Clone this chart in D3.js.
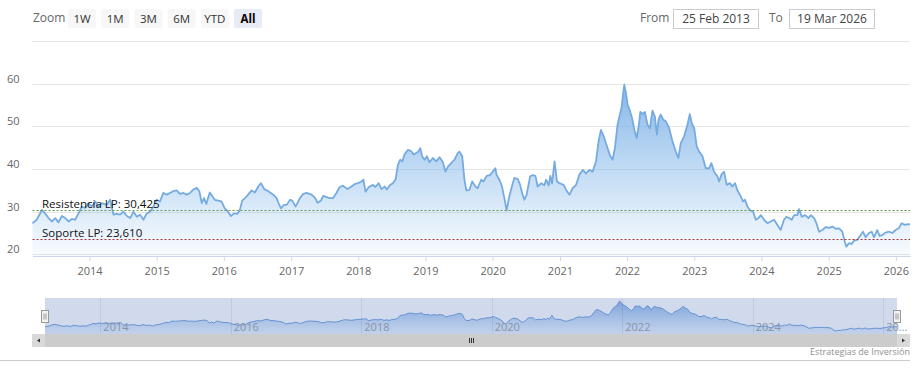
<!DOCTYPE html>
<html>
<head>
<meta charset="utf-8">
<script src="https://cdn.jsdelivr.net/npm/d3@7"></script>
<style>
  body { margin: 0; background: #fff; }
  svg { display: block; font-family: "Open Sans", sans-serif; }
</style>
</head>
<body>
<svg id="chart" width="921" height="378"></svg>
<script>
// Price series
const dates = [
  "2013-02-25","2013-03-20","2013-04-17","2013-05-05","2013-05-23","2013-06-11","2013-06-29","2013-07-16","2013-08-04","2013-08-22",
  "2013-09-09","2013-09-27","2013-10-15","2013-11-02","2013-11-20","2013-12-08","2013-12-26","2014-01-14","2014-02-01","2014-02-19",
  "2014-03-08","2014-04-05","2014-04-23","2014-05-11","2014-05-29","2014-06-16","2014-07-04","2014-07-23","2014-08-10","2014-08-28",
  "2014-09-15","2014-10-03","2014-10-21","2014-11-08","2014-11-26","2014-12-14","2015-01-01","2015-01-19","2015-02-06","2015-02-25",
  "2015-03-14","2015-04-01","2015-04-20","2015-05-08","2015-05-26","2015-06-13","2015-07-01","2015-07-19","2015-08-07","2015-08-21",
  "2015-09-03","2015-09-15","2015-09-28","2015-10-10","2015-10-17","2015-11-13","2015-12-01","2015-12-19","2016-01-06","2016-01-24",
  "2016-02-08","2016-02-26","2016-03-15","2016-03-28","2016-04-10","2016-05-04","2016-05-31","2016-06-18","2016-07-06","2016-07-21",
  "2016-08-08","2016-08-30","2016-09-26","2016-10-14","2016-10-27","2016-11-07","2016-11-23","2016-12-08","2016-12-26","2017-01-07",
  "2017-01-25","2017-02-18","2017-03-08","2017-03-26","2017-04-22","2017-05-10","2017-05-25","2017-06-12","2017-06-24","2017-07-12",
  "2017-07-30","2017-08-17","2017-09-04","2017-09-22","2017-10-10","2017-11-03","2017-11-25","2017-12-13","2017-12-31","2018-01-18",
  "2018-01-29","2018-02-09","2018-02-27","2018-03-22","2018-04-04","2018-04-22","2018-05-07","2018-05-25","2018-06-05","2018-06-21",
  "2018-07-08","2018-07-23","2018-08-04","2018-08-17","2018-08-28","2018-09-09","2018-09-27","2018-10-16","2018-10-30","2018-11-12",
  "2018-11-21","2018-12-04","2018-12-14","2018-12-27","2019-01-09","2019-01-23","2019-02-10","2019-03-01","2019-03-19","2019-04-06",
  "2019-04-20","2019-05-03","2019-05-21","2019-06-08","2019-06-26","2019-07-05","2019-07-20","2019-08-01","2019-08-11","2019-08-28",
  "2019-09-12","2019-09-30","2019-10-12","2019-10-31","2019-11-12","2019-11-30","2019-12-18","2020-01-02","2020-01-16","2020-01-23",
  "2020-02-07","2020-02-21","2020-03-05","2020-03-17","2020-04-01","2020-04-15","2020-04-28","2020-05-16","2020-05-29","2020-06-12",
  "2020-06-22","2020-07-04","2020-07-23","2020-08-06","2020-08-21","2020-09-02","2020-09-21","2020-10-08","2020-10-18","2020-11-01",
  "2020-11-10","2020-11-19","2020-12-03","2020-12-16","2020-12-29","2021-01-21","2021-02-04","2021-02-22","2021-03-11","2021-03-30",
  "2021-04-17","2021-05-05","2021-05-23","2021-06-10","2021-06-28","2021-07-16","2021-07-30","2021-08-12","2021-08-27","2021-09-14",
  "2021-10-02","2021-10-14","2021-10-27","2021-11-10","2021-11-25","2021-12-02","2021-12-11","2021-12-17","2021-12-26","2022-01-04",
  "2022-01-15","2022-01-28","2022-02-10","2022-02-22","2022-03-05","2022-03-14","2022-03-26","2022-04-08","2022-04-22","2022-05-05",
  "2022-05-19","2022-06-01","2022-06-12","2022-06-21","2022-07-03","2022-07-17","2022-07-31","2022-08-18","2022-09-05","2022-09-23",
  "2022-10-07","2022-10-20","2022-11-07","2022-11-25","2022-12-08","2022-12-19","2023-01-01","2023-01-15","2023-01-28","2023-02-15",
  "2023-03-05","2023-03-23","2023-04-04","2023-04-19","2023-05-07","2023-05-16","2023-05-29","2023-06-12","2023-06-27","2023-07-15",
  "2023-07-27","2023-08-11","2023-08-23","2023-09-11","2023-09-23","2023-10-04","2023-10-17","2023-10-30","2023-11-17","2023-12-02",
  "2023-12-16","2023-12-29","2024-01-16","2024-02-03","2024-02-21","2024-03-10","2024-03-28","2024-04-15","2024-05-03","2024-05-16",
  "2024-05-31","2024-06-14","2024-06-27","2024-07-15","2024-07-24","2024-08-08","2024-08-26","2024-09-13","2024-09-26","2024-10-14",
  "2024-10-26","2024-11-10","2024-11-28","2024-12-16","2025-01-03","2025-01-21","2025-02-08","2025-02-26","2025-03-16","2025-03-29",
  "2025-04-07","2025-04-21","2025-05-06","2025-05-18","2025-06-05","2025-06-24","2025-07-06","2025-07-21","2025-08-08","2025-08-23",
  "2025-09-04","2025-09-22","2025-10-05","2025-10-19","2025-11-07","2025-11-25","2025-12-13","2025-12-31","2026-01-17","2026-02-01",
  "2026-02-19","2026-03-09","2026-03-19"
];
const values = [
  27.3,28.1,30.4,29.6,28.5,27.7,28.5,27.5,29.0,28.5,
  27.7,28.3,28.1,29.6,31.2,30.9,32.0,31.2,32.4,31.2,
  32.0,31.6,32.8,29.3,29.5,29.3,30.0,29.0,28.5,30.0,
  28.8,29.3,28.1,29.6,30.0,31.2,32.8,32.4,34.4,34.0,
  34.4,34.8,35.0,34.2,34.4,34.0,34.4,35.2,35.6,34.8,
  32.0,33.2,31.8,33.6,34.5,32.8,32.6,32.4,30.8,30.0,
  29.0,29.6,29.5,30.4,32.6,33.6,35.0,34.5,35.9,36.7,
  35.3,34.8,34.0,33.2,31.8,30.8,31.6,31.6,32.8,32.6,
  31.2,33.2,34.2,34.4,34.0,33.3,32.1,32.6,33.7,33.4,
  33.2,33.2,34.4,35.8,36.1,35.3,35.9,36.5,36.7,37.1,
  37.5,34.7,35.8,36.3,35.8,36.7,35.3,35.9,35.2,36.2,
  36.7,37.6,41.0,42.2,41.8,43.4,44.5,44.2,43.4,43.8,
  44.0,44.9,43.0,42.2,43.0,41.6,42.6,41.8,42.8,41.6,
  39.4,40.6,41.4,42.2,43.8,44.1,43.0,37.5,35.0,35.1,
  37.1,35.9,35.5,37.5,37.1,38.4,38.6,39.4,40.2,38.6,
  37.5,35.9,33.2,30.3,33.6,35.9,37.9,37.7,36.4,34.0,
  32.8,34.0,38.3,38.6,38.4,35.9,36.7,36.2,37.5,36.2,
  38.4,36.6,41.8,37.1,36.7,36.3,35.1,34.0,35.5,36.3,
  38.7,39.8,39.0,39.8,39.4,41.8,46.5,49.2,47.7,45.3,
  43.0,42.2,44.9,50.4,53.2,54.4,57.9,59.8,57.9,55.1,
  53.9,52.0,49.2,47.3,50.0,53.4,53.0,53.4,50.4,49.6,
  53.7,52.4,48.1,51.6,52.8,51.6,51.2,49.6,46.5,44.1,
  42.6,46.1,47.7,50.4,52.9,50.8,49.6,45.3,44.1,43.0,
  40.2,40.2,41.4,39.4,38.3,37.1,38.7,39.4,36.3,36.7,
  35.9,36.7,35.1,33.6,32.4,32.8,31.2,30.4,30.0,28.1,
  28.5,29.2,28.1,27.3,27.7,28.1,26.9,25.7,28.1,28.8,
  28.5,28.1,29.2,29.2,30.6,28.8,29.2,28.5,29.2,28.5,
  27.3,25.3,25.7,26.4,26.2,26.5,26.0,26.1,25.3,23.0,
  21.8,22.6,22.4,23.2,23.4,24.5,25.3,24.0,25.0,25.3,
  24.0,25.7,24.3,24.5,25.1,25.3,25.0,25.7,26.1,27.3,
  26.9,27.1,27.0
];

const yTicks = [20, 30, 40, 50, 60, 70];
const zoomButtons = ["1W", "1M", "3M", "6M", "YTD", "All"];
const selectedButton = "All";
const fromDate = "25 Feb 2013";
const toDate = "19 Mar 2026";
const plotLines = [
  { value: 30.425, label: "Resistencia LP: 30,425", color: "#5f9a4a" },
  { value: 23.610, label: "Soporte LP: 23,610", color: "#a23030" }
];
const creditText = "Estrategias de Inversión";

const parse = d3.timeParse("%Y-%m-%d");
const data = dates.map((d, i) => ({ date: parse(d), value: values[i] }));

const svg = d3.select("#chart");
const defs = svg.append("defs");

// Main plot geometry
const plot = { left: 32.5, right: 910, top: 40, bottom: 256 };

const xScale = d3.scaleTime()
    .domain([parse("2013-02-25"), parse("2026-03-19")])
    .range([plot.left, plot.right]);

const yScale = d3.scaleLinear()
    .domain([19.6, 70.3])
    .range([plot.bottom, plot.top]);

// Gradient for the area
const grad = defs.append("linearGradient")
    .attr("id", "areaGrad")
    .attr("x1", 0).attr("y1", 0).attr("x2", 0).attr("y2", 1);
grad.append("stop").attr("offset", "0%").attr("stop-color", "#72aae3").attr("stop-opacity", 0.85);
grad.append("stop").attr("offset", "100%").attr("stop-color", "#7cb5ec").attr("stop-opacity", 0.05);

// Grid lines
svg.append("g")
    .selectAll("line")
    .data(yTicks)
    .enter()
    .append("line")
    .attr("x1", plot.left)
    .attr("x2", plot.right)
    .attr("y1", d => Math.round(yScale(d)) + 0.5)
    .attr("y2", d => Math.round(yScale(d)) + 0.5)
    .attr("stroke", "#e6e6e6");

// Y labels
svg.append("g")
    .selectAll("text")
    .data(yTicks.filter(d => d < 70))
    .enter()
    .append("text")
    .attr("x", 7)
    .attr("y", d => yScale(d) - 1)
    .attr("font-size", 11)
    .attr("fill", "#666")
    .text(d => d);

// Area + line
const area = d3.area()
    .x(d => xScale(d.date))
    .y0(plot.bottom)
    .y1(d => yScale(d.value));

const line = d3.line()
    .x(d => xScale(d.date))
    .y(d => yScale(d.value));

svg.append("path")
    .datum(data)
    .attr("d", area)
    .attr("fill", "url(#areaGrad)");

svg.append("path")
    .datum(data)
    .attr("d", line)
    .attr("fill", "none")
    .attr("stroke", "#76abe0")
    .attr("stroke-width", 1.8)
    .attr("stroke-linejoin", "round");

// Plot lines (support / resistance)
plotLines.forEach(p => {
    const y = Math.round(yScale(p.value)) + 0.5;
    svg.append("line")
        .attr("x1", plot.left)
        .attr("x2", plot.right)
        .attr("y1", y)
        .attr("y2", y)
        .attr("stroke", p.color)
        .attr("stroke-width", 1)
        .attr("stroke-dasharray", "2,2");
    svg.append("text")
        .attr("x", 42)
        .attr("y", y - 3)
        .attr("font-size", 11.5)
        .attr("fill", "#111")
        .text(p.label);
});

// X axis
const xAxis = svg.append("g")
    .attr("transform", `translate(0,${plot.bottom})`)
    .call(d3.axisBottom(xScale)
        .ticks(d3.timeYear.every(1))
        .tickFormat(d3.timeFormat("%Y"))
        .tickSizeInner(5)
        .tickSizeOuter(0)
        .tickPadding(6));
xAxis.select(".domain").attr("stroke", "#ccd6eb");
xAxis.selectAll(".tick line").attr("stroke", "#ccd6eb");
xAxis.selectAll(".tick text")
    .attr("fill", "#666")
    .attr("font-size", 11)
    .attr("font-family", "Open Sans, sans-serif");

// Range selector
svg.append("text")
    .attr("x", 33)
    .attr("y", 22)
    .attr("font-size", 12)
    .attr("fill", "#666")
    .text("Zoom");

const btn = svg.append("g")
    .selectAll("g")
    .data(zoomButtons)
    .enter()
    .append("g")
    .attr("transform", (d, i) => `translate(${68 + i * 33.2},9)`);
btn.append("rect")
    .attr("width", 28)
    .attr("height", 19)
    .attr("rx", 2)
    .attr("fill", d => d === selectedButton ? "#e6ebf5" : "#f7f7f7");
btn.append("text")
    .attr("x", 14)
    .attr("y", 13.5)
    .attr("text-anchor", "middle")
    .attr("font-size", 11.5)
    .attr("font-weight", d => d === selectedButton ? "bold" : "normal")
    .attr("fill", d => d === selectedButton ? "#000" : "#333")
    .text(d => d);

// From / To inputs
const inputs = [
    { label: "From", labelX: 640, boxX: 673.5, text: fromDate },
    { label: "To", labelX: 769, boxX: 789.5, text: toDate }
];
inputs.forEach(inp => {
    svg.append("text")
        .attr("x", inp.labelX)
        .attr("y", 22)
        .attr("font-size", 12)
        .attr("fill", "#666")
        .text(inp.label);
    svg.append("rect")
        .attr("x", inp.boxX)
        .attr("y", 9.5)
        .attr("width", 85)
        .attr("height", 19)
        .attr("fill", "#fff")
        .attr("stroke", "#cccccc");
    svg.append("text")
        .attr("x", inp.boxX + 42.5)
        .attr("y", 23)
        .attr("text-anchor", "middle")
        .attr("font-size", 12)
        .attr("fill", "#444")
        .text(inp.text);
});

// Navigator
const nav = { left: 45, right: 897, top: 298, bottom: 334 };
const navX = d3.scaleTime()
    .domain(xScale.domain())
    .range([nav.left, nav.right]);
const ext = d3.extent(values);
const pad = (ext[1] - ext[0]) * 0.1;
const navY = d3.scaleLinear()
    .domain([ext[0] - pad, ext[1] + pad])
    .range([nav.bottom, nav.top]);

const navGrad = defs.append("linearGradient")
    .attr("id", "navGrad")
    .attr("x1", 0).attr("y1", 0).attr("x2", 0).attr("y2", 1);
navGrad.append("stop").attr("offset", "0%").attr("stop-color", "#4f8ad6").attr("stop-opacity", 0.7);
navGrad.append("stop").attr("offset", "100%").attr("stop-color", "#7cb5ec").attr("stop-opacity", 0.15);

svg.append("path")
    .datum(data)
    .attr("d", d3.area()
        .x(d => navX(d.date))
        .y0(nav.bottom)
        .y1(d => navY(d.value)))
    .attr("fill", "url(#navGrad)");
svg.append("path")
    .datum(data)
    .attr("d", d3.line()
        .x(d => navX(d.date))
        .y(d => navY(d.value)))
    .attr("fill", "none")
    .attr("stroke", "#6698d8")
    .attr("stroke-width", 1);

// mask over selected range
svg.append("rect")
    .attr("x", nav.left)
    .attr("y", nav.top)
    .attr("width", nav.right - nav.left)
    .attr("height", nav.bottom - nav.top)
    .attr("fill", "rgba(102,133,194,0.3)");

// navigator grid + labels
const navTicks = navX.ticks(d3.timeYear.every(2));
svg.append("g")
    .selectAll("line")
    .data(navTicks)
    .enter()
    .append("line")
    .attr("x1", d => Math.round(navX(d)) + 0.5)
    .attr("x2", d => Math.round(navX(d)) + 0.5)
    .attr("y1", nav.top)
    .attr("y2", nav.bottom)
    .attr("stroke", "rgba(0,0,0,0.07)");
svg.append("g")
    .selectAll("text")
    .data(navTicks)
    .enter()
    .append("text")
    .attr("x", d => navX(d) + 3)
    .attr("y", 331)
    .attr("font-size", 11)
    .attr("fill", "#8a93a8")
    .text(d => nav.right - navX(d) < 20 ? d3.timeFormat("%Y")(d).slice(0, 2) + "…" : d3.timeFormat("%Y")(d));

// handles
[nav.left, nav.right].forEach(hx => {
    const g = svg.append("g").attr("transform", `translate(${Math.round(hx) - 3.5},310.5)`);
    g.append("rect")
        .attr("width", 7)
        .attr("height", 12)
        .attr("fill", "#f2f2f2")
        .attr("stroke", "#999");
    g.append("line").attr("x1", 2.5).attr("x2", 2.5).attr("y1", 3).attr("y2", 9).attr("stroke", "#999");
    g.append("line").attr("x1", 4.5).attr("x2", 4.5).attr("y1", 3).attr("y2", 9).attr("stroke", "#999");
});

// scrollbar
svg.append("rect")
    .attr("x", 32)
    .attr("y", 334)
    .attr("width", 878)
    .attr("height", 13)
    .attr("fill", "#cccccc");
[{ x: 32, dir: -1 }, { x: 897, dir: 1 }].forEach(b => {
    svg.append("rect")
        .attr("x", b.x)
        .attr("y", 334)
        .attr("width", 13)
        .attr("height", 13)
        .attr("fill", "#d9d9d9");
    const cx = b.x + 6.5;
    svg.append("path")
        .attr("d", b.dir < 0
            ? `M${cx + 1.5},${338.5} L${cx - 1.5},${340.5} L${cx + 1.5},${342.5} Z`
            : `M${cx - 1.5},${338.5} L${cx + 1.5},${340.5} L${cx - 1.5},${342.5} Z`)
        .attr("fill", "#333");
});
[0, 2, 4].forEach(dx => {
    svg.append("line")
        .attr("x1", 469.5 + dx)
        .attr("x2", 469.5 + dx)
        .attr("y1", 338)
        .attr("y2", 343)
        .attr("stroke", "#333");
});

// bottom separator + credit
svg.append("line")
    .attr("x1", 0)
    .attr("x2", 910)
    .attr("y1", 360.5)
    .attr("y2", 360.5)
    .attr("stroke", "#cccccc");
svg.append("text")
    .attr("x", 910)
    .attr("y", 355)
    .attr("text-anchor", "end")
    .attr("font-size", 9)
    .attr("fill", "#909090")
    .text(creditText);
</script>
</body>
</html>
